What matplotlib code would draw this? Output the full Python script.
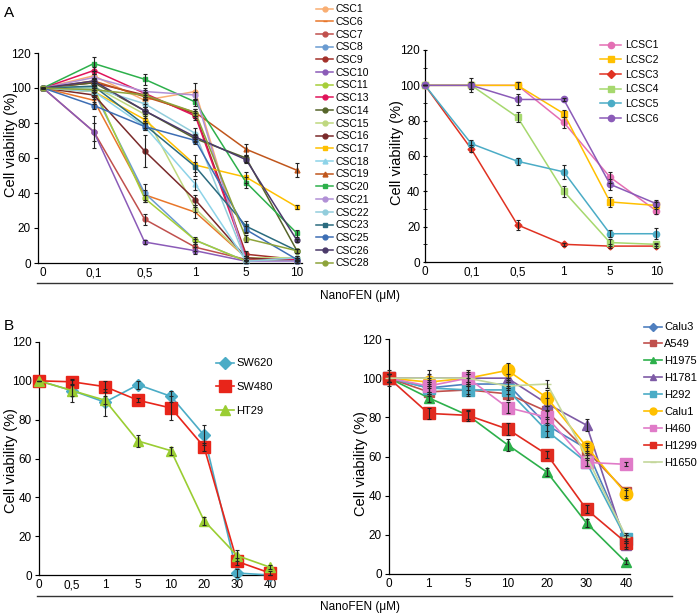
import numpy as np
import matplotlib
matplotlib.use("Agg")
import matplotlib.pyplot as plt
from matplotlib.lines import Line2D
from matplotlib.ticker import MultipleLocator

plt.rcParams['font.family'] = ['Liberation Sans', 'DejaVu Sans']

W, H = 698, 613

# ---------------- data ----------------
doses_a = ['0', '0,1', '0,5', '1', '5', '10']

csc_names = ['CSC1', 'CSC6', 'CSC7', 'CSC8', 'CSC9', 'CSC10', 'CSC11', 'CSC13', 'CSC14',
             'CSC15', 'CSC16', 'CSC17', 'CSC18', 'CSC19', 'CSC20', 'CSC21', 'CSC22',
             'CSC23', 'CSC25', 'CSC26', 'CSC28']
csc_colors = ['#F9AE72', '#E8762A', '#C0504D', '#6A9BD1', '#A3302A', '#8B5BB8', '#A6CE39',
              '#E0145A', '#56652A', '#BFD87F', '#7A2A2A', '#FFC000', '#8DD3E8', '#C0561C',
              '#2DB04B', '#B190D6', '#92CDDC', '#2B6B7F', '#3D6EB4', '#4B3A6A', '#8DA33A']
csc_markers = ['o', '_', 'o', 'o', 'o', 'o', 'o', 'o', 'o', 'o', 'o', 's', '^', '^', 's',
               'o', 'o', 's', 'o', 'o', 'o']
csc_vals = [
    [100, 107, 93, 98, 2, 2],
    [100, 93, 39, 29, 3, 2],
    [100, 75, 25, 9, 2, 1],
    [100, 98, 40, 13, 1, 1],
    [100, 103, 96, 85, 5, 2],
    [100, 75, 12, 7, 1, 1],
    [100, 100, 37, 13, 1, 2],
    [100, 110, 97, 84, 3, 2],
    [100, 103, 87, 71, 60, 7],
    [100, 101, 85, 31, 3, 3],
    [100, 96, 64, 36, 3, 1],
    [100, 98, 82, 56, 49, 32],
    [100, 98, 78, 45, 1, 1],
    [100, 104, 95, 86, 65, 53],
    [100, 114, 105, 92, 46, 17],
    [100, 106, 98, 96, 1, 1],
    [100, 100, 91, 74, 1, 3],
    [100, 101, 79, 55, 21, 7],
    [100, 90, 78, 70, 19, 2],
    [100, 104, 87, 72, 59, 13],
    [100, 99, 96, 86, 14, 7],
]
csc_err = [
    [0, 3, 2, 5, 1, 1],
    [0, 2, 3, 3, 1, 1],
    [0, 9, 3, 2, 1, 1],
    [0, 2, 5, 2, 1, 1],
    [0, 2, 2, 2, 2, 1],
    [0, 5, 1, 2, 1, 1],
    [0, 2, 2, 1, 1, 1],
    [0, 2, 2, 2, 1, 1],
    [0, 2, 2, 2, 2, 1],
    [0, 2, 2, 2, 1, 1],
    [0, 2, 9, 3, 1, 1],
    [0, 2, 2, 6, 3, 1],
    [0, 2, 2, 3, 1, 1],
    [0, 2, 2, 2, 3, 4],
    [0, 4, 3, 2, 3, 2],
    [0, 2, 2, 2, 1, 1],
    [0, 2, 2, 3, 1, 1],
    [0, 2, 2, 3, 3, 1],
    [0, 2, 2, 2, 2, 1],
    [0, 2, 2, 2, 2, 1],
    [0, 2, 2, 2, 2, 1],
]

lcsc_names = ['LCSC1', 'LCSC2', 'LCSC3', 'LCSC4', 'LCSC5', 'LCSC6']
lcsc_colors = ['#E46FB4', '#FFC000', '#E03222', '#A6D86E', '#4BACC6', '#8B5BB8']
lcsc_markers = ['o', 's', 'D', 's', 'o', 'o']
lcsc_vals = [
    [100, 100, 100, 79, 48, 29],
    [100, 100, 100, 84, 34, 32],
    [100, 64, 21, 10, 9, 9],
    [100, 100, 82, 40, 11, 10],
    [100, 67, 57, 51, 16, 16],
    [100, 100, 92, 92, 44, 33],
]
lcsc_err = [
    [0, 4, 2, 3, 3, 2],
    [0, 2, 2, 2, 3, 2],
    [0, 2, 3, 1, 1, 1],
    [0, 2, 3, 3, 2, 1],
    [0, 2, 2, 4, 2, 3],
    [0, 2, 3, 1, 3, 2],
]

doses_b1 = ['0', '0,5', '1', '5', '10', '20', '30', '40']
crc_names = ['SW620', 'SW480', 'HT29']
crc_colors = ['#4BACC6', '#E8251A', '#9ACD32']
crc_markers = ['D', 's', '^']
crc_msize = [6, 9, 7]
crc_vals = [
    [100, 95, 89, 98, 92, 72, 1, 0],
    [100, 99.5, 97, 90, 86, 66, 7, 1],
    [100, 95, 90, 69, 64, 28, 10, 4],
]
crc_err = [
    [0, 3, 7, 2, 3, 5, 2, 0],
    [0, 1, 3, 1, 6, 2, 2, 1],
    [0, 6, 2, 3, 2, 2, 3, 1],
]

doses_b2 = ['0', '1', '5', '10', '20', '30', '40']
lung_names = ['Calu3', 'A549', 'H1975', 'H1781', 'H292', 'Calu1', 'H460', 'H1299', 'H1650']
lung_colors = ['#4F7FBF', '#C0504D', '#2DB04B', '#7E5BA6', '#4BACC6', '#FFC000',
               '#E07BC8', '#E02B20', '#C4D79B']
lung_markers = ['D', 's', '^', '^', 's', 'o', 's', 's', '_']
lung_msize = [4, 7, 7, 7, 8, 9, 9, 8, 6]
lung_vals = [
    [100, 95, 97, 97, 76, 64, 18],
    [100, 93, 94, 92, 83, 63, 42],
    [100, 90, 81, 66, 52, 26, 6],
    [100, 100, 100, 100, 87, 76, 15],
    [100, 95, 94, 94, 73, 57, 18],
    [100, 98, 100, 104, 90, 65, 41],
    [100, 96, 100, 85, 80, 57, 56],
    [100, 82, 81, 74, 61, 33, 16],
    [100, 100, 100, 96, 97, 60, 19],
]
lung_err = [
    [4, 3, 3, 2, 3, 2, 2],
    [2, 2, 2, 3, 3, 2, 2],
    [2, 2, 2, 3, 2, 2, 1],
    [2, 4, 4, 2, 3, 3, 2],
    [2, 2, 3, 2, 3, 2, 2],
    [2, 2, 2, 4, 4, 2, 2],
    [2, 3, 3, 3, 3, 2, 1],
    [2, 3, 3, 3, 2, 2, 2],
    [2, 2, 2, 2, 2, 2, 2],
]


def px_axes(fig, x0, y_top, x1, y_bot):
    return fig.add_axes([x0 / W, 1 - y_bot / H, (x1 - x0) / W, (y_bot - y_top) / H])


def style(ax, labels, xmin, xmax, minor=False):
    ax.set_xlim(xmin, xmax)
    ax.set_ylim(0, 120)
    ax.set_xticks(range(len(labels)))
    ax.set_xticklabels(labels)
    ax.yaxis.set_major_locator(MultipleLocator(20))
    ax.spines['top'].set_visible(False)
    ax.spines['right'].set_visible(False)
    ax.spines['left'].set_linewidth(0.9)
    ax.spines['bottom'].set_linewidth(0.9)
    ax.tick_params(axis='x', length=0, labelsize=8.5, pad=3)
    ax.tick_params(axis='y', length=3, width=0.8, labelsize=8.5, pad=2)
    if minor:
        ax.yaxis.set_minor_locator(MultipleLocator(10))
        ax.tick_params(axis='y', which='both', direction='inout', length=3)


def ylab(fig, x, y):
    fig.text(x / W, 1 - y / H, 'Cell viability (%)', rotation=90, ha='center',
             va='center', fontsize=10.5)


def draw(ax, vals, errs, colors, markers, msizes, lw):
    x = np.arange(len(vals[0]))
    for v, e, c, m, ms in zip(vals, errs, colors, markers, msizes):
        ax.plot(x, v, color=c, marker=m, markersize=ms, lw=lw, clip_on=False, zorder=3)
        ax.errorbar(x, v, yerr=e, fmt='none', ecolor='#222222', elinewidth=0.8,
                    capsize=1.5, capthick=0.8, clip_on=False, zorder=4)


fig = plt.figure(figsize=(W / 100, H / 100), dpi=100)

# Panel A left
ax1 = px_axes(fig, 38, 53, 302, 263)
draw(ax1, csc_vals, csc_err, csc_colors, csc_markers, [3.5] * len(csc_vals), 1.1)
style(ax1, doses_a, -0.1, 5.1)
ylab(fig, 11, 145)
h = [Line2D([], [], color=c, marker=m, markersize=3.5, lw=1.1)
     for c, m in zip(csc_colors, csc_markers)]
fig.legend(h, csc_names, loc='upper left', bbox_to_anchor=(312 / W, 1 - 0 / H),
           frameon=False, fontsize=7.5, handlelength=1.6, handletextpad=0.25,
           labelspacing=0.26, borderaxespad=0)

# Panel A right
ax2 = px_axes(fig, 425, 50, 660, 262)
draw(ax2, lcsc_vals, lcsc_err, lcsc_colors, lcsc_markers, [4.5, 5, 3.5, 5, 4.5, 4.5], 1.1)
style(ax2, doses_a, 0, 5.08, minor=True)
ylab(fig, 397, 153)
h = [Line2D([], [], color=c, marker=m, markersize=4.5, lw=1.1)
     for c, m in zip(lcsc_colors, lcsc_markers)]
fig.legend(h, lcsc_names, loc='upper left', bbox_to_anchor=(596 / W, 1 - 36 / H),
           frameon=False, fontsize=7.5, handlelength=2.0, handletextpad=0.4,
           labelspacing=0.45, borderaxespad=0)

# Panel B left
ax3 = px_axes(fig, 39, 342, 275, 575)
draw(ax3, crc_vals, crc_err, crc_colors, crc_markers, crc_msize, 1.2)
style(ax3, doses_b1, 0, 7.15)
ylab(fig, 11, 461)
h = [Line2D([], [], color=c, marker=m, markersize=ms, lw=1.2)
     for c, m, ms in zip(crc_colors, crc_markers, crc_msize)]
fig.legend(h, crc_names, loc='upper left', bbox_to_anchor=(212 / W, 1 - 354 / H),
           frameon=False, fontsize=8, handlelength=1.6, handletextpad=0.2,
           labelspacing=1.25, borderaxespad=0)

# Panel B right
ax4 = px_axes(fig, 389, 339, 630, 574)
draw(ax4, lung_vals, lung_err, lung_colors, lung_markers, lung_msize, 1.2)
style(ax4, doses_b2, 0, 6.1)
ylab(fig, 361, 464)
h = [Line2D([], [], color=c, marker=m, markersize=min(ms, 5), lw=1.2)
     for c, m, ms in zip(lung_colors, lung_markers, lung_msize)]
fig.legend(h, lung_names, loc='upper left', bbox_to_anchor=(640 / W, 1 - 318 / H),
           frameon=False, fontsize=8, handlelength=1.6, handletextpad=0.2,
           labelspacing=0.62, borderaxespad=0)

# dose underlines and labels
for y_line, y_text in [(283, 296), (596, 607)]:
    fig.add_artist(Line2D([37 / W, 672 / W], [1 - y_line / H] * 2,
                          transform=fig.transFigure, color='#333333', lw=1))
    fig.text(360 / W, 1 - y_text / H, 'NanoFEN (\u03bcM)', ha='center', va='center',
             fontsize=8.5)

fig.text(4 / W, 1 - 13 / H, 'A', fontsize=11, va='center')
fig.text(4 / W, 1 - 326 / H, 'B', fontsize=11, va='center')

fig.savefig('out.png', dpi=100)
